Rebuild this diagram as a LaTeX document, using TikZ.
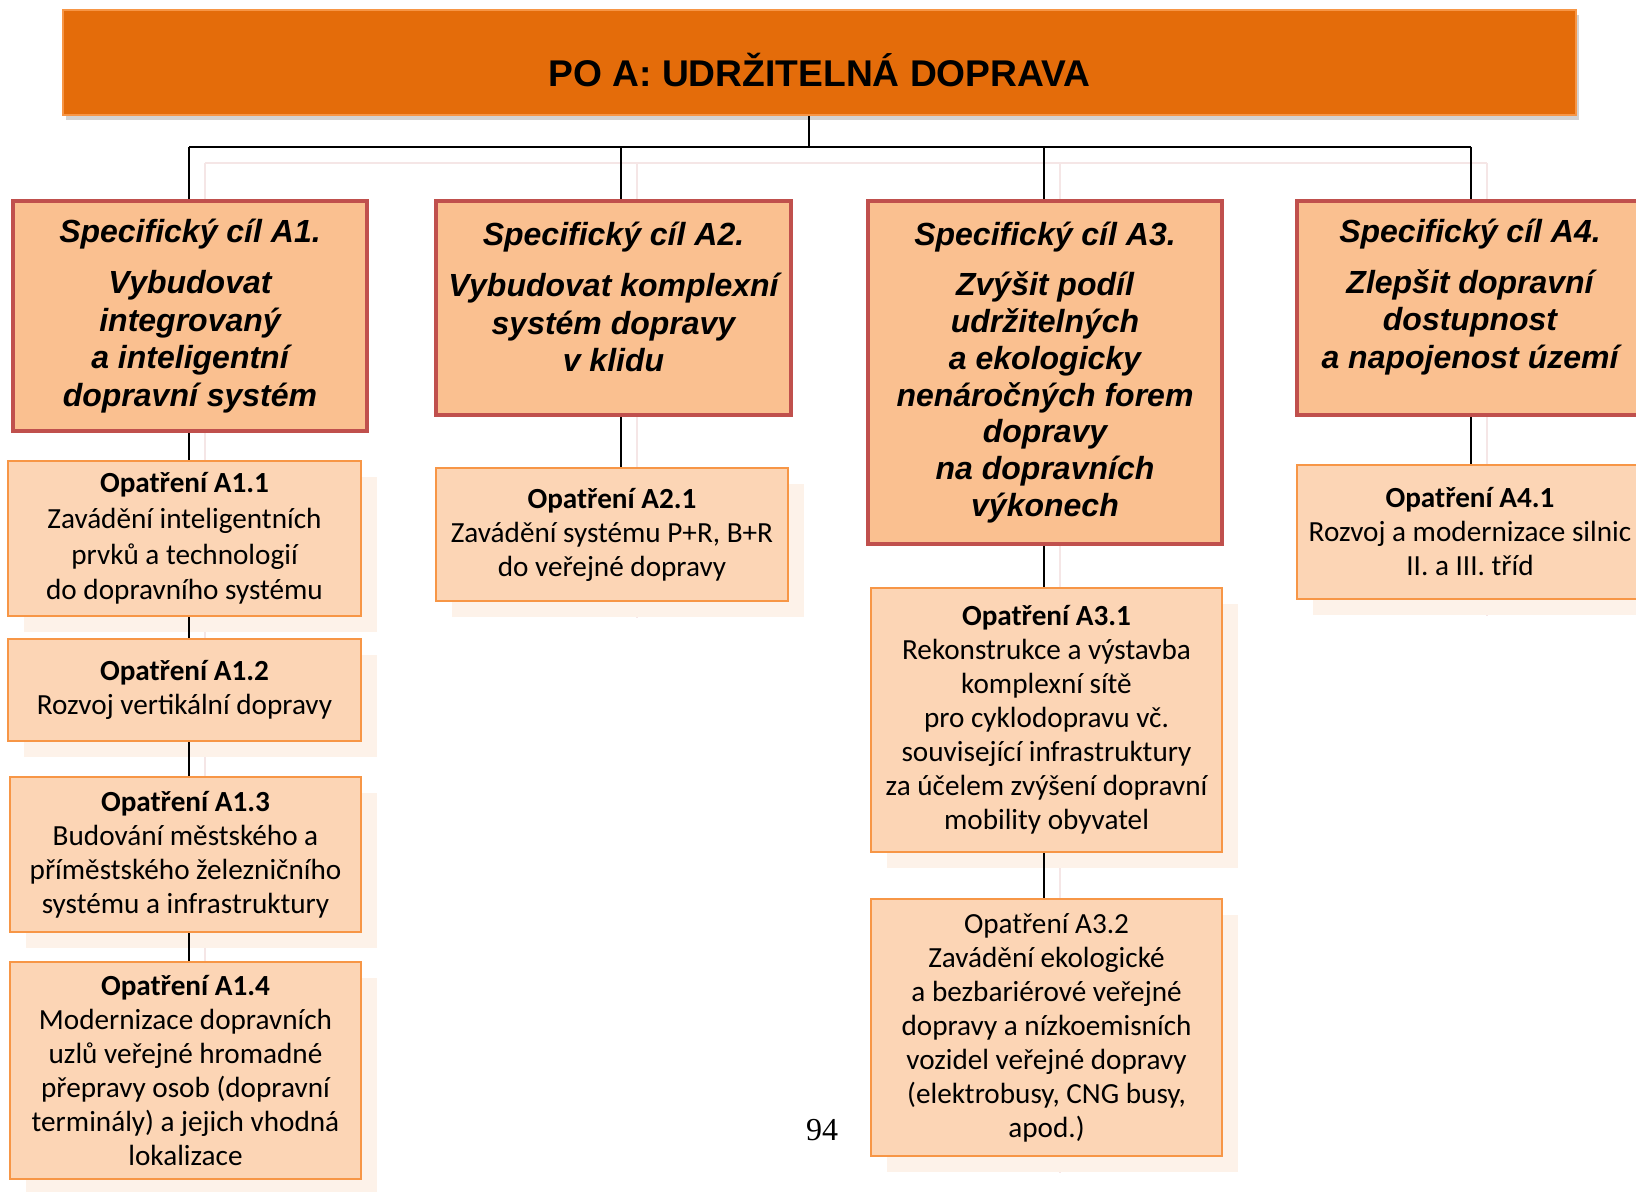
\documentclass[tikz,border=0pt]{standalone}
\usepackage{fontspec}
\setmainfont{Liberation Sans}
\newfontfamily\calfont{Carlito}
\newfontfamily\pagefont{Liberation Serif}
\usetikzlibrary{shadows,backgrounds,calc}
\definecolor{titlefill}{HTML}{E46C0A}
\definecolor{titleline}{HTML}{F79646}
\definecolor{goalfill}{HTML}{FAC090}
\definecolor{goalline}{HTML}{C0504D}
\definecolor{measfill}{HTML}{FCD5B5}
\definecolor{measline}{HTML}{F79646}
\definecolor{shadefill}{HTML}{FDF2E9}
\definecolor{ghostline}{HTML}{F5E6E6}
\tikzset{
  topbox/.style={draw=titleline, line width=1pt, fill=titlefill, minimum width=756.5pt, minimum height=52.5pt,
    text height=24pt, text depth=0pt,
    font=\bfseries\fontsize{18.6}{22}\selectfont, drop shadow={shadow xshift=1.5pt, shadow yshift=-2.5pt, opacity=0.35}},
  goal/.style={draw=goalline, line width=2pt, fill=goalfill, align=center, inner sep=0pt,
    font=\bfseries\itshape\fontsize{16}{18.8}\selectfont},
  measure/.style={draw=measline, line width=1.3pt, fill=measfill, align=center, inner sep=0pt,
    font=\calfont\fontsize{14.6}{17}\selectfont,
    general shadow={fill=shadefill, draw=none, shadow xshift=8pt, shadow yshift=-8pt}},
  link/.style={line width=0.8pt},
  ghost/.style={line width=1.1pt, draw=ghostline}
}
\begin{document}
\begin{tikzpicture}[x=0.5pt,y=-0.5pt]
\useasboundingbox (0,0) rectangle (1636,1192);
\node (title) [topbox] at (819.5,62.5) {PO A: UDRŽITELNÁ DOPRAVA};
\node (a1) [goal, minimum width=177pt, minimum height=115pt] at (190,316)
  {Specifický cíl A1.\\[6.7pt] Vybudovat\\ integrovaný\\ a inteligentní\\ dopravní systém};
\node (a2) [goal, minimum width=177.5pt, minimum height=107pt, text depth=11pt] at (613.5,308)
  {Specifický cíl A2.\\[6.7pt] Vybudovat komplexní\\ systém dopravy\\ v klidu};
\node (a3) [goal, minimum width=177pt, minimum height=171.5pt, font=\bfseries\itshape\fontsize{16}{18.4}\selectfont] at (1045,372.5)
  {Specifický cíl A3.\\[6.7pt] Zvýšit podíl\\ udržitelných\\ a ekologicky\\ nenáročných forem\\ dopravy\\ na dopravních\\ výkonech};
\node (a4) [goal, minimum width=173pt, minimum height=107pt, text depth=14.4pt] at (1470,308)
  {Specifický cíl A4.\\[6.7pt] Zlepšit dopravní\\ dostupnost\\ a napojenost území};
\node (m11) [measure, minimum width=176.5pt, minimum height=77.5pt, font=\calfont\fontsize{14.6}{17.9}\selectfont] at (184.5,538.5)
  {\textbf{Opatření A1.1}\\ Zavádění inteligentních\\ prvků a technologií\\ do dopravního systému};
\node (m12) [measure, minimum width=176.5pt, minimum height=51pt] at (184.5,690)
  {\textbf{Opatření A1.2}\\ Rozvoj vertikální dopravy};
\node (m13) [measure, minimum width=175.5pt, minimum height=77.5pt] at (185.5,854.5)
  {\textbf{Opatření A1.3}\\ Budování městského a\\ příměstského železničního\\ systému a infrastruktury};
\node (m14) [measure, minimum width=175.5pt, minimum height=108.5pt] at (185.5,1070.5)
  {\textbf{Opatření A1.4}\\ Modernizace dopravních\\ uzlů veřejné hromadné\\ přepravy osob (dopravní\\ terminály) a jejich vhodná\\ lokalizace};
\node (m21) [measure, minimum width=176pt, minimum height=66.5pt] at (612,534.5)
  {\textbf{Opatření A2.1}\\ Zavádění systému P+R, B+R\\ do veřejné dopravy};
\node (m31) [measure, minimum width=175.5pt, minimum height=132pt] at (1046.5,720)
  {\textbf{Opatření A3.1}\\ Rekonstrukce a výstavba\\ komplexní sítě\\ pro cyklodopravu vč.\\ související infrastruktury\\ za účelem zvýšení dopravní\\ mobility obyvatel};
\node (m32) [measure, minimum width=175.5pt, minimum height=128.5pt] at (1046.5,1027.5)
  {Opatření A3.2\\ Zavádění ekologické\\ a bezbariérové veřejné\\ dopravy a nízkoemisních\\ vozidel veřejné dopravy\\ (elektrobusy, CNG busy,\\ apod.)};
\node (m41) [measure, minimum width=173pt, minimum height=67pt] at (1470,532)
  {\textbf{Opatření A4.1}\\ Rozvoj a modernizace silnic\\ II. a III. tříd};
\node (page) at (822,1130) {\pagefont\fontsize{16}{19}\selectfont 94};
\coordinate (hub) at (809,147);
\coordinate (k1) at (189,147);
\coordinate (k2) at (621,147);
\coordinate (k3) at (1044,147);
\coordinate (k4) at (1471,147);
\draw[link] (title.south -| hub) -- (hub);
\draw[link] (k1) -- (k4);
\foreach \k/\g in {k1/a1,k2/a2,k3/a3,k4/a4}
  \draw[link] (\k) -- (\g.north -| \k);
\foreach \k/\u/\v in {k1/a1/m11,k1/m11/m12,k1/m12/m13,k1/m13/m14,k2/a2/m21,k3/a3/m31,k3/m31/m32,k4/a4/m41}
  \draw[link] (\u.south -| \k) -- (\v.north -| \k);
\begin{pgfonlayer}{background}
\draw[ghost] ($(k1)+(16,16)$) -- ($(k4)+(16,16)$);
\foreach \k/\v in {k1/m14,k2/m21,k3/m32,k4/m41}
  \draw[ghost] ($(\k)+(16,16)$) -- ($(\v.south -| \k)+(16,16)$);
\end{pgfonlayer}
\end{tikzpicture}
\end{document}
